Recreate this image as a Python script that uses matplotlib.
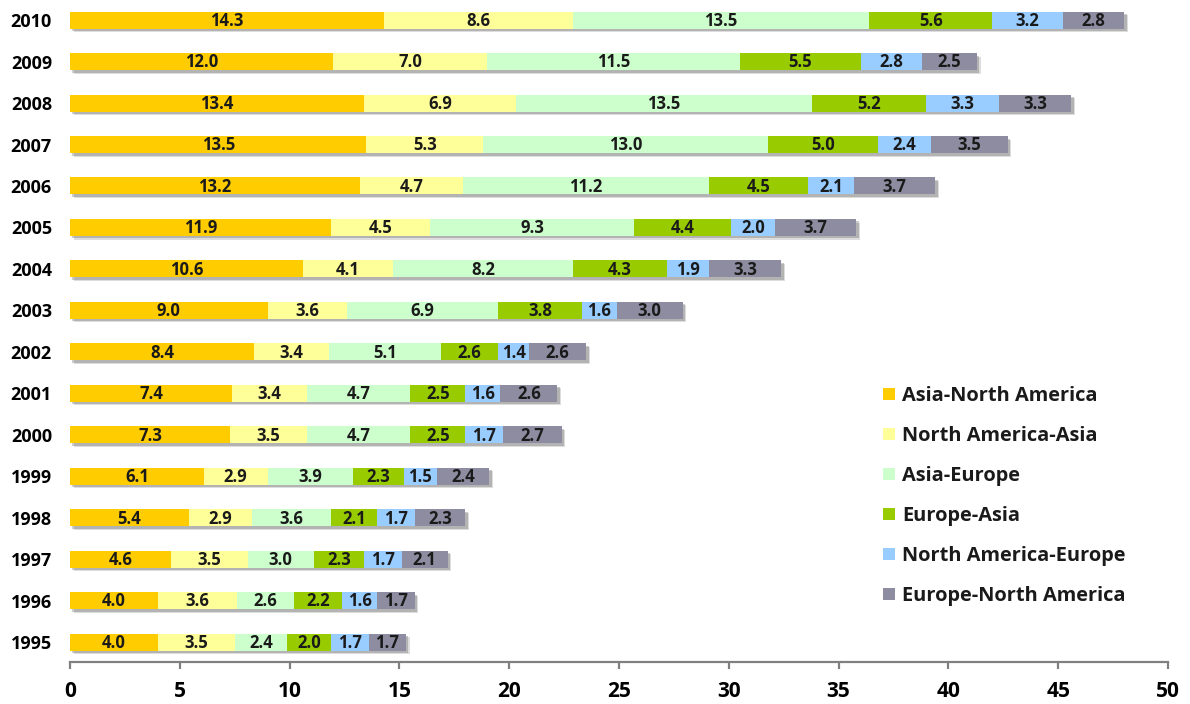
import numpy as np
import matplotlib
matplotlib.use("Agg")
import matplotlib.pyplot as plt
import matplotlib.patheffects as pe
from matplotlib.patches import Patch

plt.rcParams.update({
    "font.family": ["Open Sans", "DejaVu Sans"],
    "font.weight": "bold",
    "text.color": "#1a1a1a",
})

years = ["1995", "1996", "1997", "1998", "1999", "2000", "2001", "2002",
         "2003", "2004", "2005", "2006", "2007", "2008", "2009", "2010"]

routes = ["Asia-North America", "North America-Asia", "Asia-Europe",
          "Europe-Asia", "North America-Europe", "Europe-North America"]

asia_na = [4.0, 4.0, 4.6, 5.4, 6.1, 7.3, 7.4, 8.4, 9.0, 10.6, 11.9, 13.2, 13.5, 13.4, 12.0, 14.3]
na_asia = [3.5, 3.6, 3.5, 2.9, 2.9, 3.5, 3.4, 3.4, 3.6, 4.1, 4.5, 4.7, 5.3, 6.9, 7.0, 8.6]
asia_eu = [2.4, 2.6, 3.0, 3.6, 3.9, 4.7, 4.7, 5.1, 6.9, 8.2, 9.3, 11.2, 13.0, 13.5, 11.5, 13.5]
eu_asia = [2.0, 2.2, 2.3, 2.1, 2.3, 2.5, 2.5, 2.6, 3.8, 4.3, 4.4, 4.5, 5.0, 5.2, 5.5, 5.6]
na_eu = [1.7, 1.6, 1.7, 1.7, 1.5, 1.7, 1.6, 1.4, 1.6, 1.9, 2.0, 2.1, 2.4, 3.3, 2.8, 3.2]
eu_na = [1.7, 1.7, 2.1, 2.3, 2.4, 2.7, 2.6, 2.6, 3.0, 3.3, 3.7, 3.7, 3.5, 3.3, 2.5, 2.8]

colors = ["#FFCC00", "#FFFF99", "#CCFFCC", "#99CC00", "#99CCFF", "#8E8CA0"]

series = [asia_na, na_asia, asia_eu, eu_asia, na_eu, eu_na]

fig = plt.figure(figsize=(11.9, 7.04), dpi=100)
ax = fig.add_axes([0.0588, 0.0597, 0.9227, 0.94])

y = np.arange(len(years))
totals = np.sum(series, axis=0)

# soft drop shadow under each full bar
shadow = ax.barh(y, totals, height=0.41, color="white", zorder=1)
for bar in shadow:
    bar.set_path_effects([
        pe.SimplePatchShadow(offset=(2.6, -2.6), shadow_rgbFace="#555555", alpha=0.2),
        pe.SimplePatchShadow(offset=(1.8, -1.8), shadow_rgbFace="#555555", alpha=0.3),
        pe.Normal(),
    ])

left = np.zeros(len(years))
for vals, col, name in zip(series, colors, routes):
    vals = np.array(vals)
    bars = ax.barh(y, vals, left=left, height=0.41, color=col, label=name, zorder=2)
    for b, v in zip(bars, vals):
        ax.text(b.get_x() + b.get_width() / 2, b.get_y() + b.get_height() / 2 - 0.02,
                f"{v:.1f}", ha="center", va="center", fontsize=12, zorder=3)
    left += vals

ax.set_xlim(0, 50)
ax.set_ylim(-0.48, 15.48)
ax.set_xticks(np.arange(0, 51, 5))
ax.set_yticks(y)
ax.set_yticklabels(years, fontsize=13)
ax.tick_params(axis="y", length=0, pad=13)
ax.tick_params(axis="x", direction="out", length=5, width=1.6, color="#808080",
               labelsize=15, pad=9)

for side in ["top", "right", "left"]:
    ax.spines[side].set_visible(False)
ax.spines["bottom"].set_color("#808080")
ax.spines["bottom"].set_linewidth(1.6)

handles = [Patch(facecolor=c, edgecolor="none", label=r) for c, r in zip(colors, routes)]
ax.legend(handles=handles, loc="upper left", bbox_to_anchor=(0.727, 0.477),
          bbox_transform=fig.transFigure, frameon=False, fontsize=14.4,
          handlelength=0.6, handleheight=0.6, handletextpad=0.35, labelspacing=1.0)

fig.savefig("out.png", dpi=100)
